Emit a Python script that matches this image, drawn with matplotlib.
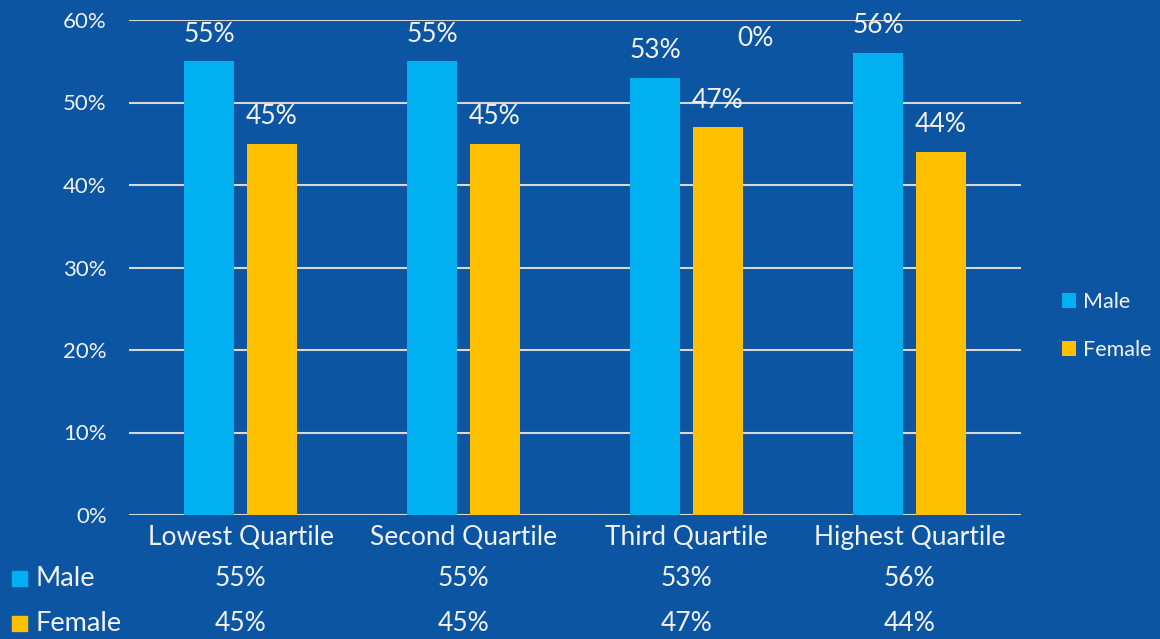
import numpy as np
import matplotlib.pyplot as plt
from matplotlib.patches import Rectangle
from matplotlib.ticker import PercentFormatter

categories = ['Lowest Quartile', 'Second Quartile', 'Third Quartile', 'Highest Quartile']
male = [55, 55, 53, 56]
female = [45, 45, 47, 44]
series_names = ['Male', 'Female']
stray_label = '0%'

BG = '#0B55A3'
MALE_C = '#00B0F0'
FEMALE_C = '#FFC000'
TXT = '#F2F2F2'
GRID = '#D9D9D9'

plt.rcParams['font.family'] = ['Lato', 'DejaVu Sans']

fig = plt.figure(figsize=(11.6, 6.39), dpi=100, facecolor=BG)
ax = fig.add_axes([129 / 1160, 124 / 639, 892 / 1160, 495 / 639])
ax.set_facecolor(BG)

x = np.arange(len(categories))
w = 0.224
off = 0.141
bars_m = ax.bar(x - off, male, w, color=MALE_C, zorder=3)
bars_f = ax.bar(x + off, female, w, color=FEMALE_C, zorder=3)

for bars, vals in ((bars_m, male), (bars_f, female)):
    for b, v in zip(bars, vals):
        ax.annotate(f'{v}%', (b.get_x() + b.get_width() / 2, v),
                    xytext=(0, 19.5), textcoords='offset points',
                    ha='center', va='center', color=TXT, fontsize=19)

# leftover label from an empty series in the original chart
ax.text(2.307, 57.7, stray_label, ha='center', va='center', color=TXT, fontsize=19)

ax.set_xlim(-0.5, len(categories) - 0.5)
ax.set_ylim(0, 60)
ax.set_yticks(np.arange(0, 61, 10))
ax.yaxis.set_major_formatter(PercentFormatter(decimals=0))
ax.grid(axis='y', color=GRID, linewidth=1.5, zorder=0)
for s in ax.spines.values():
    s.set_visible(False)
ax.tick_params(axis='y', length=0, pad=16, labelcolor=TXT, labelsize=16)
ax.set_xticks(x)
ax.set_xticklabels(categories)
ax.tick_params(axis='x', length=0, pad=7, labelcolor=TXT, labelsize=19)

# data table below the axis
rows = [(series_names[0], male, MALE_C, -0.129), (series_names[1], female, FEMALE_C, -0.220)]
trans = ax.get_xaxis_transform()
for name, vals, col, yy in rows:
    for xi, v in zip(x, vals):
        ax.text(xi, yy, f'{v}%', transform=trans, ha='center', va='center',
                color=TXT, fontsize=19, clip_on=False)
    ypix = 639 - (515 - yy * 495)
    fig.patches.append(Rectangle((12 / 1160, (ypix - 7) / 639), 15 / 1160, 15 / 639,
                                 transform=fig.transFigure, color=col))
    fig.text(36 / 1160, ypix / 639, name, ha='left', va='center', color=TXT, fontsize=19.5)

leg = ax.legend([bars_m, bars_f], series_names, loc='center left',
                bbox_to_anchor=(1051 / 1160, 313 / 639), bbox_transform=fig.transFigure,
                frameon=False, fontsize=15.5, handlelength=0.68, handleheight=0.68,
                handletextpad=0.3, labelspacing=1.3, borderpad=0)
for t in leg.get_texts():
    t.set_color(TXT)

fig.savefig('out.png', dpi=100, facecolor=BG)
